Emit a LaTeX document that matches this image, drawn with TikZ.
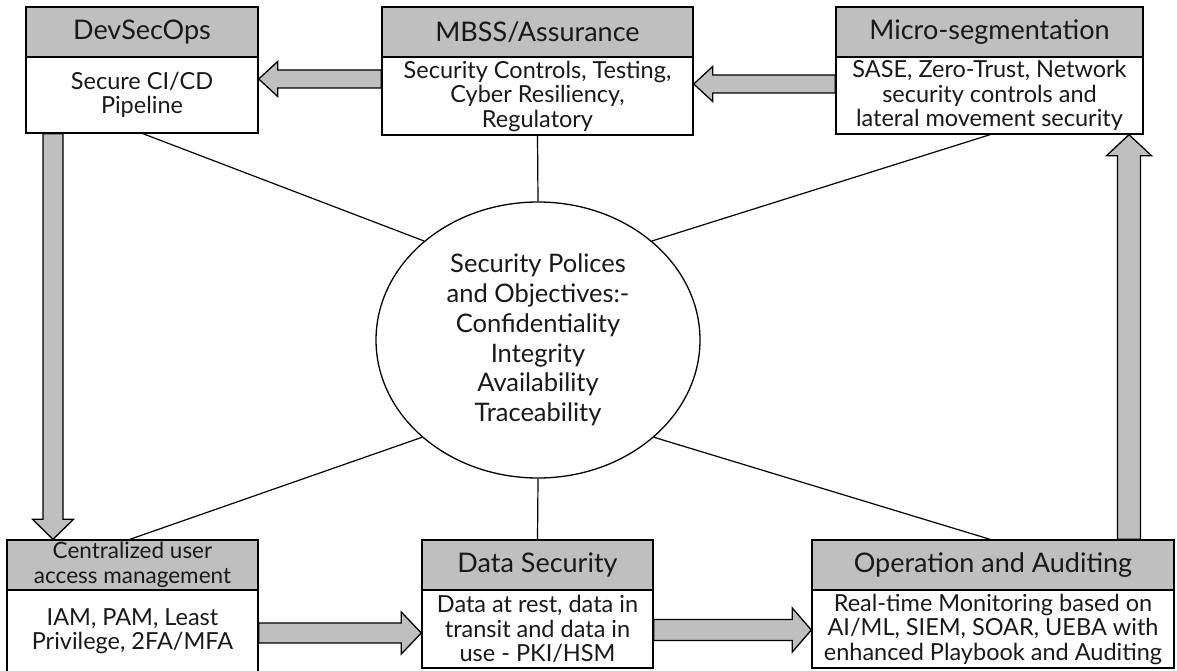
\documentclass[tikz,border=0pt]{standalone}
\usepackage{fontspec}
\setmainfont{Lato}
\usetikzlibrary{calc,shapes.geometric}
\definecolor{hdrgray}{RGB}{191,191,191}
\tikzset{
  boxfont/.style={font=\fontsize{23.5}{24.5}\selectfont},
  hdrfont/.style={font=\fontsize{27}{25}\selectfont},
  hdr/.style={draw=black, line width=1.4pt, fill=hdrgray, hdrfont, align=center, inner sep=0pt, text=black!90},
  bdy/.style={draw=black, line width=1.4pt, fill=white, boxfont, align=center, inner sep=0pt, text=black!90},
  link/.style={draw=black, line width=1.2pt},
  blockarrow/.style={draw=black, line width=1.3pt, fill=hdrgray, line join=miter},
}
% block arrow: #1 start, #2 tip, #3 shaft half width, #4 head half width, #5 head length
\newcommand\barrow[5]{%
  \path ($(#2)!#5!(#1)$) coordinate (bh);
  \draw[blockarrow] ($(#1)!#3!90:(#2)$) -- ($(bh)!#3!90:(#2)$) -- ($(bh)!#4!90:(#2)$) -- (#2)
    -- ($(bh)!#4!-90:(#2)$) -- ($(bh)!#3!-90:(#2)$) -- ($(#1)!#3!-90:(#2)$) -- cycle;
}
\begin{document}
\begin{tikzpicture}[x=1pt,y=-1pt]
\clip (0,0) rectangle (1177,671);
\fill[white] (0,0) rectangle (1177,671);

% top boxes
\node[hdr, minimum width=232pt, minimum height=50pt] (devh) at (142,32) {DevSecOps};
\node[bdy, minimum width=232pt, minimum height=76pt] (devb) at (142,95) {Secure CI/CD\\Pipeline};

\node[hdr, minimum width=311pt, minimum height=50pt] (mbssh) at (537.5,32) {MBSS/Assurance};
\node[bdy, minimum width=311pt, minimum height=78pt] (mbssb) at (537.5,96) {Security Controls, Testing,\\Cyber Resiliency,\\Regulatory};

\node[hdr, minimum width=307pt, minimum height=50pt] (mich) at (989.5,32) {Micro-segmentation};
\node[bdy, minimum width=307pt, minimum height=77pt] (micb) at (989.5,95.5) {SASE, Zero-Trust, Network\\security controls and\\lateral movement security};

% bottom boxes
\node[hdr, minimum width=251pt, minimum height=50pt, font=\fontsize{22.5}{25}\selectfont] (cenh) at (132.5,565) {Centralized user\\access management};
\node[bdy, minimum width=251pt, minimum height=82pt] (cenb) at (132.5,631) {IAM, PAM, Least\\Privilege, 2FA/MFA};

\node[hdr, minimum width=231pt, minimum height=50pt] (dath) at (537.5,565) {Data Security};
\node[bdy, minimum width=231pt, minimum height=78pt] (datb) at (537.5,629) {Data at rest, data in\\transit and data in\\use - PKI/HSM};

\node[hdr, minimum width=362pt, minimum height=50pt] (oph) at (993,565) {Operation and Auditing};
\node[bdy, minimum width=362pt, minimum height=78pt] (opb) at (993,629) {Real-time Monitoring based on\\AI/ML, SIEM, SOAR, UEBA with\\enhanced Playbook and Auditing};

% center ellipse
\node[ellipse, draw=black, line width=1.3pt, minimum width=324pt, minimum height=276pt, inner sep=0pt,
      font=\fontsize{25.5}{29.7}\selectfont, align=center, text=black!90] (ell) at (538,340)
  {Security Polices\\and Objectives:-\\Confidentiality\\Integrity\\Availability\\Traceability};

% spokes
\draw[link] ($(devb.south)+(1,0)$) coordinate (s1) -- (ell.139);
\draw[link] (mbssb.south) -- (ell.north);
\draw[link] ($(micb.south)+(0.5,0)$) coordinate (s3) -- (ell.41);
\draw[link] ($(cenh.north)+(-2.5,0)$) coordinate (s4) -- (ell.220);
\draw[link] (dath.north) -- (ell.south);
\draw[link] ($(oph.north)+(-3,0)$) coordinate (s6) -- (ell.320);

% block arrows
\coordinate (a1s) at ($(mbssb.west)+(0,-17)$);
\coordinate (a1e) at ($(devb.east)+(0,-16)$);
\barrow{a1s}{a1e}{9pt}{17.5pt}{19pt}

\coordinate (a2s) at ($(micb.west)+(0,-11.5)$);
\coordinate (a2e) at ($(mbssb.east)+(0,-12)$);
\barrow{a2s}{a2e}{9pt}{17.5pt}{19pt}

\coordinate (a3s) at ($(devb.south)+(-89,0)$);
\coordinate (a3e) at ($(cenh.north)+(-79.5,0)$);
\barrow{a3s}{a3e}{10pt}{20.5pt}{20pt}

\coordinate (a4s) at ($(cenb.east)+(0,2)$);
\coordinate (a4e) at ($(datb.west)+(0,4)$);
\barrow{a4s}{a4e}{10pt}{21pt}{20pt}

\coordinate (a5s) at ($(datb.east)+(0,1)$);
\coordinate (a5e) at ($(opb.west)+(0,1)$);
\barrow{a5s}{a5e}{10.5pt}{22pt}{19pt}

\coordinate (a6s) at ($(oph.north)+(136,0)$);
\coordinate (a6e) at ($(micb.south)+(139.5,0)$);
\barrow{a6s}{a6e}{11.5pt}{22.5pt}{21pt}
\end{tikzpicture}
\end{document}
